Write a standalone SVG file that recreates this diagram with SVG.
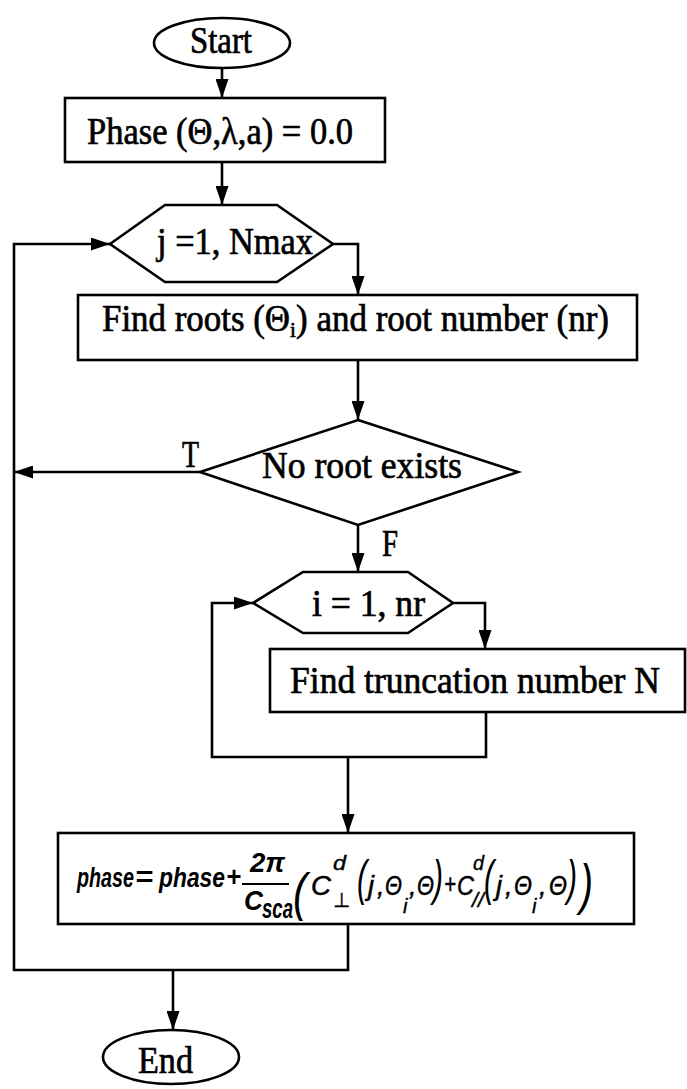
<svg xmlns="http://www.w3.org/2000/svg" width="687" height="1089" viewBox="0 0 687 1089">
<style>
.sh{fill:#fff;stroke:#000;stroke-width:2.6}
.cn{fill:none;stroke:#000;stroke-width:2.6}
.t{font-family:"Liberation Serif","Times New Roman",serif;font-size:38px;fill:#000;stroke:#000;stroke-width:0.7}
.f{font-family:"Liberation Sans",Arial,sans-serif;font-style:italic;fill:#000}
.fb{font-weight:bold;font-size:28px}
.fn{font-size:27px;stroke:#000;stroke-width:0.5}
.fs{font-size:20px;stroke:#000;stroke-width:0.4}
</style>
<defs>
<marker id="ah" viewBox="0 0 19 13" refX="19" refY="6.5" markerWidth="19" markerHeight="13" markerUnits="userSpaceOnUse" orient="auto">
<path d="M0,0 L19,6.5 L0,13 Z" fill="#000"/>
</marker>
</defs>
<rect width="687" height="1089" fill="#fff"/>
<g id="connectors">
<path class="cn" d="M222,68 V98" marker-end="url(#ah)"/>
<path class="cn" d="M222,162 V205" marker-end="url(#ah)"/>
<path class="cn" d="M333,244 H358 V295" marker-end="url(#ah)"/>
<path class="cn" d="M358,360 V420" marker-end="url(#ah)"/>
<path class="cn" d="M200,472 H14" marker-end="url(#ah)"/>
<path class="cn" d="M358,525 V572" marker-end="url(#ah)"/>
<path class="cn" d="M453,603 H485 V649" marker-end="url(#ah)"/>
<path class="cn" d="M486,712 V757 H212 V603 H253" marker-end="url(#ah)"/>
<path class="cn" d="M348,757 V833" marker-end="url(#ah)"/>
<path class="cn" d="M348,924 V970 H14 V244 H110" marker-end="url(#ah)"/>
<path class="cn" d="M173,970 V1030" marker-end="url(#ah)"/>
<text class="t" x="182" y="467" textLength="17" lengthAdjust="spacingAndGlyphs">T</text>
<text class="t" x="382" y="556" textLength="16" lengthAdjust="spacingAndGlyphs">F</text>
</g>
<g id="start">
<ellipse class="sh" cx="222" cy="43" rx="68" ry="25"/>
<text class="t" x="190" y="53" textLength="62" lengthAdjust="spacingAndGlyphs">Start</text>
</g>
<g id="init">
<rect class="sh" x="65" y="98" width="320" height="64"/>
<text class="t" x="87" y="144" textLength="266" lengthAdjust="spacingAndGlyphs">Phase (Θ,λ,a) = 0.0</text>
</g>
<g id="loop-j">
<polygon class="sh" points="110,244 165,205 277,205 333,244 277,282 165,282"/>
<text class="t" x="157" y="254" textLength="156" lengthAdjust="spacingAndGlyphs">j =1, Nmax</text>
</g>
<g id="find-roots">
<rect class="sh" x="78" y="295" width="559" height="65"/>
<text class="t" x="102" y="331" textLength="188" lengthAdjust="spacingAndGlyphs">Find roots (Θ</text>
<text class="t" x="290" y="337" style="font-size:21px">i</text>
<text class="t" x="296" y="331" textLength="313" lengthAdjust="spacingAndGlyphs">) and root number (nr)</text>
</g>
<g id="no-root">
<polygon class="sh" points="358,420 518,472 358,525 200,472"/>
<text class="t" x="262" y="478" textLength="200" lengthAdjust="spacingAndGlyphs">No root exists</text>
</g>
<g id="loop-i">
<polygon class="sh" points="253,603 303,572 408,572 453,603 408,633 303,633"/>
<text class="t" x="312" y="616" textLength="113" lengthAdjust="spacingAndGlyphs">i = 1, nr</text>
</g>
<g id="truncation">
<rect class="sh" x="270" y="649" width="415" height="63"/>
<text class="t" x="290" y="693" textLength="370" lengthAdjust="spacingAndGlyphs">Find truncation number N</text>
</g>
<g id="phase-update">
<rect class="sh" x="58" y="833" width="576" height="91"/>
<text class="f fb" x="77" y="887" textLength="57" lengthAdjust="spacingAndGlyphs">phase</text>
<text class="f fb" x="135" y="886" textLength="18" lengthAdjust="spacingAndGlyphs">=</text>
<text class="f fb" x="159" y="887" textLength="66" lengthAdjust="spacingAndGlyphs">phase</text>
<text class="f fb" x="226" y="886" textLength="15" lengthAdjust="spacingAndGlyphs">+</text>
<line x1="242" y1="884" x2="289" y2="884" stroke="#000" stroke-width="2"/>
<text class="f fb" x="250" y="872" textLength="35" lengthAdjust="spacingAndGlyphs">2π</text>
<text class="f fb" x="244" y="910" textLength="19" lengthAdjust="spacingAndGlyphs">C</text>
<text class="f fb" x="262" y="918" textLength="31" lengthAdjust="spacingAndGlyphs">sca</text>
<text class="f" style="font-size:52px" x="293" y="910" textLength="14" lengthAdjust="spacingAndGlyphs">(</text>
<text class="f fn" x="311" y="895" textLength="20" lengthAdjust="spacingAndGlyphs">C</text>
<text class="f fs" x="333" y="870" textLength="13" lengthAdjust="spacingAndGlyphs">d</text>
<text class="fs" x="333" y="907" style="font-family:'DejaVu Sans',sans-serif" textLength="17" lengthAdjust="spacingAndGlyphs">⊥</text>
<text class="f" style="font-size:50px" x="357" y="895" textLength="10" lengthAdjust="spacingAndGlyphs">(</text>
<text class="f fn" x="368" y="895">j</text>
<text class="f fn" x="377" y="895">,</text>
<text class="f fn" x="385" y="895" textLength="17" lengthAdjust="spacingAndGlyphs">Θ</text>
<text class="f fs" x="403" y="913">i</text>
<text class="f fn" x="409" y="895">,</text>
<text class="f fn" x="417" y="895" textLength="17" lengthAdjust="spacingAndGlyphs">Θ</text>
<text class="f" style="font-size:50px" x="433" y="895" textLength="10" lengthAdjust="spacingAndGlyphs">)</text>
<text class="f fn" x="444" y="893" textLength="12" lengthAdjust="spacingAndGlyphs">+</text>
<text class="f fn" x="457" y="895" textLength="17" lengthAdjust="spacingAndGlyphs">C</text>
<text class="f fs" x="473" y="870" textLength="11" lengthAdjust="spacingAndGlyphs">d</text>
<text class="f fs" x="472" y="907" textLength="12" lengthAdjust="spacingAndGlyphs">//</text>
<text class="f" style="font-size:50px" x="484" y="895" textLength="10" lengthAdjust="spacingAndGlyphs">(</text>
<text class="f fn" x="496" y="895">j</text>
<text class="f fn" x="505" y="895">,</text>
<text class="f fn" x="514" y="895" textLength="18" lengthAdjust="spacingAndGlyphs">Θ</text>
<text class="f fs" x="532" y="913">i</text>
<text class="f fn" x="539" y="895">,</text>
<text class="f fn" x="549" y="895" textLength="18" lengthAdjust="spacingAndGlyphs">Θ</text>
<text class="f" style="font-size:50px" x="567" y="895" textLength="10" lengthAdjust="spacingAndGlyphs">)</text>
<text class="f" style="font-size:56px" x="580" y="903" textLength="13" lengthAdjust="spacingAndGlyphs">)</text>
</g>
<g id="end">
<ellipse class="sh" cx="171" cy="1057" rx="68" ry="27"/>
<text class="t" x="138" y="1073" textLength="55" lengthAdjust="spacingAndGlyphs">End</text>
</g>
</svg>
